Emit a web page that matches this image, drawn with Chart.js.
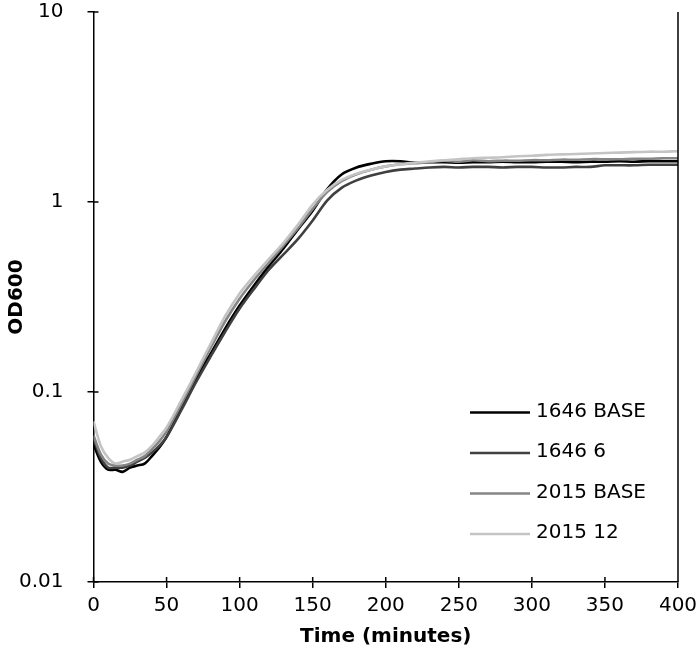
<!DOCTYPE html>
<html>
<head>
<meta charset="utf-8">
<script src="https://cdn.jsdelivr.net/npm/chart.js@4.4.1/dist/chart.umd.min.js"></script>
<style>
  html, body { margin: 0; padding: 0; background: #fff; }
  #wrap { width: 697px; height: 650px; }
</style>
</head>
<body>
<div id="wrap"><canvas id="myChart" width="697" height="650"></canvas></div>
<script>
// time points (minutes)
var minutes = [0, 5, 10, 15, 20, 25, 30, 35, 40, 45, 50, 60, 70, 80, 90, 100, 110, 120, 130, 140,
  150, 160, 170, 180, 190, 200, 210, 220, 230, 240, 250, 260, 270, 280, 290, 300, 310, 320, 330,
  340, 350, 360, 370, 380, 390, 400];

var seriesNames = ['1646 BASE', '1646 6', '2015 BASE', '2015 12'];
var seriesColors = ['#000000', '#404040', '#858585', '#c4c4c4'];

var od1646Base = [0.053, 0.043, 0.039, 0.039, 0.038, 0.040, 0.041, 0.042, 0.046, 0.051, 0.058,
  0.083, 0.117, 0.158, 0.215, 0.285, 0.365, 0.46, 0.57, 0.72, 0.90, 1.17, 1.40, 1.52, 1.59, 1.64,
  1.64, 1.61, 1.62, 1.62, 1.61, 1.62, 1.62, 1.63, 1.62, 1.62, 1.63, 1.63, 1.62, 1.63, 1.63, 1.64,
  1.63, 1.64, 1.64, 1.64];
var od1646_6 = [0.057, 0.045, 0.040, 0.040, 0.040, 0.041, 0.043, 0.045, 0.048, 0.052, 0.058,
  0.080, 0.112, 0.153, 0.207, 0.275, 0.35, 0.44, 0.53, 0.64, 0.80, 1.02, 1.19, 1.30, 1.38, 1.44,
  1.48, 1.50, 1.52, 1.53, 1.52, 1.53, 1.53, 1.52, 1.53, 1.53, 1.52, 1.52, 1.53, 1.53, 1.56, 1.56,
  1.56, 1.57, 1.57, 1.57];
var od2015Base = [0.059, 0.047, 0.042, 0.041, 0.041, 0.042, 0.044, 0.046, 0.050, 0.055, 0.062,
  0.086, 0.121, 0.170, 0.235, 0.31, 0.39, 0.48, 0.59, 0.73, 0.92, 1.13, 1.29, 1.40, 1.48, 1.54,
  1.58, 1.60, 1.62, 1.65, 1.63, 1.66, 1.64, 1.65, 1.65, 1.66, 1.66, 1.67, 1.67, 1.68, 1.68, 1.68,
  1.69, 1.69, 1.70, 1.70];
var od2015_12 = [0.070, 0.052, 0.045, 0.042, 0.043, 0.044, 0.046, 0.048, 0.052, 0.058, 0.065,
  0.090, 0.126, 0.178, 0.25, 0.33, 0.41, 0.50, 0.61, 0.76, 0.97, 1.16, 1.31, 1.41, 1.48, 1.54,
  1.58, 1.61, 1.64, 1.66, 1.68, 1.70, 1.71, 1.72, 1.74, 1.75, 1.77, 1.78, 1.79, 1.80, 1.81, 1.82,
  1.83, 1.84, 1.84, 1.85];

var yTickValues = [0.01, 0.1, 1, 10];
var yTickLabels = ['0.01', '0.1', '1', '10'];
var xTickValues = [0, 50, 100, 150, 200, 250, 300, 350, 400];

var allSeries = [od1646Base, od1646_6, od2015Base, od2015_12];
var FONT = "'DejaVu Sans', 'Liberation Sans', Arial, sans-serif";

function toPoints(vals) {
  return vals.map(function (v, i) { return { x: minutes[i], y: v }; });
}

// inner tick marks, right border and the legend inside the plot
var extras = {
  id: 'extras',
  afterDraw: function (chart) {
    var ctx = chart.ctx;
    var area = chart.chartArea;
    var xs = chart.scales.x, ys = chart.scales.y;
    ctx.save();
    ctx.strokeStyle = '#000';
    ctx.lineWidth = 1.5;
    ctx.beginPath();
    ctx.moveTo(area.right, area.top);
    ctx.lineTo(area.right, area.bottom);
    yTickValues.forEach(function (v) {
      var py = ys.getPixelForValue(v);
      ctx.moveTo(area.left, py);
      ctx.lineTo(area.left + 5, py);
    });
    xTickValues.forEach(function (v) {
      var px = xs.getPixelForValue(v);
      ctx.moveTo(px, area.bottom);
      ctx.lineTo(px, area.bottom - 5);
    });
    ctx.stroke();

    // legend
    ctx.font = '20px ' + FONT;
    ctx.textBaseline = 'middle';
    ctx.textAlign = 'left';
    chart.data.datasets.forEach(function (ds, i) {
      var y = 412.5 + i * 40.5;
      ctx.strokeStyle = ds.borderColor;
      ctx.lineWidth = 2.6;
      ctx.beginPath();
      ctx.moveTo(470, y);
      ctx.lineTo(530, y);
      ctx.stroke();
      ctx.fillStyle = '#000';
      ctx.fillText(ds.label, 536, y - 1);
    });
    ctx.restore();
  }
};

var ctx = document.getElementById('myChart').getContext('2d');
var myChart = new Chart(ctx, {
  type: 'line',
  data: {
    datasets: allSeries.map(function (vals, i) {
      return {
        label: seriesNames[i],
        data: toPoints(vals),
        borderColor: seriesColors[i],
        backgroundColor: seriesColors[i],
        borderWidth: 2.6,
        pointRadius: 0,
        tension: 0.3,
        fill: false,
        order: allSeries.length - 1 - i
      };
    })
  },
  options: {
    responsive: false,
    animation: false,
    devicePixelRatio: 1,
    layout: { padding: { top: 12, right: 19, left: 0, bottom: 0 } },
    plugins: {
      legend: { display: false },
      tooltip: { enabled: false }
    },
    scales: {
      x: {
        type: 'linear',
        min: 0,
        max: 400,
        afterFit: function (s) {
          s.height = 68;
          s.paddingLeft = 0;
          s.paddingRight = 0;
        },
        afterBuildTicks: function (s) {
          s.ticks = xTickValues.map(function (v) { return { value: v }; });
        },
        ticks: { color: '#000', font: { family: FONT, size: 20 }, padding: 6, maxRotation: 0 },
        grid: { drawOnChartArea: false, drawTicks: true, tickLength: 6, color: '#000', lineWidth: 1.5 },
        border: { color: '#000', width: 1.5 },
        title: {
          display: true,
          text: 'Time (minutes)',
          color: '#000',
          font: { family: FONT, size: 20, weight: 'bold' },
          padding: { top: 0, bottom: 1 }
        }
      },
      y: {
        type: 'logarithmic',
        min: 0.01,
        max: 10,
        afterFit: function (s) {
          s.width = 93.5;
          s.paddingTop = 0;
          s.paddingBottom = 0;
        },
        afterBuildTicks: function (s) {
          s.ticks = yTickValues.map(function (v) { return { value: v }; });
        },
        ticks: {
          color: '#000',
          font: { family: FONT, size: 20 },
          padding: 24,
          autoSkip: false,
          callback: function (value) {
            var idx = yTickValues.indexOf(value);
            return idx >= 0 ? yTickLabels[idx] : '';
          }
        },
        grid: { drawOnChartArea: false, drawTicks: true, tickLength: 6, color: '#000', lineWidth: 1.5 },
        border: { color: '#000', width: 1.5 },
        title: {
          display: true,
          text: 'OD600',
          color: '#000',
          font: { family: FONT, size: 20, weight: 'bold' },
          padding: { top: 5, bottom: 0 }
        }
      }
    }
  },
  plugins: [extras]
});
</script>
</body>
</html>
